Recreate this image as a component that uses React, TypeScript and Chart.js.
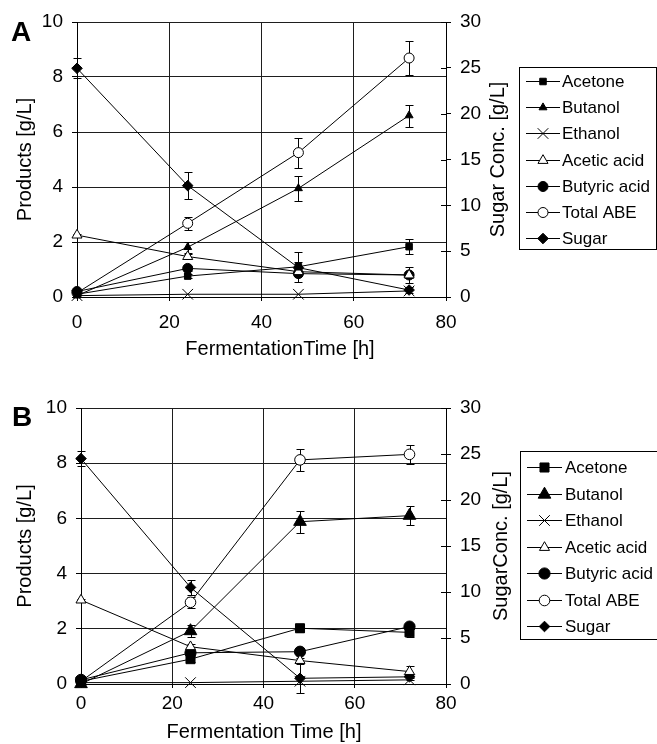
import { useEffect, useRef } from 'react';
import { Chart, registerables } from 'chart.js';

Chart.register(...registerables);

const FONT = "'Liberation Sans', Arial, Helvetica, sans-serif";

// ---------- data ----------
const timeH = [0, 24, 48, 72];
const xTicksMax = 80;
const xTickStep = 20;
const productsMax = 10;
const productsStep = 2;
const sugarMax = 30;
const sugarStep = 5;

const seriesLabels = ['Acetone', 'Butanol', 'Ethanol', 'Acetic acid', 'Butyric acid', 'Total ABE', 'Sugar'];

// Panel A (products in g/L on left axis, sugar in g/L on right axis)
const acetoneA = [0.1, 0.76, 1.1, 1.83];
const butanolA = [0.05, 1.81, 3.95, 6.6];
const ethanolA = [0.05, 0.1, 0.1, 0.22];
const aceticA = [2.25, 1.47, 0.92, 0.8];
const butyricA = [0.2, 1.04, 0.85, 0.8];
const totalAbeA = [0.15, 2.68, 5.25, 8.69];
const sugarA = [24.95, 12.15, 3.2, 0.76];

const acetoneErrA = [0.05, 0.08, 0.55, 0.28];
const butanolErrA = [0, 0.2, 0.45, 0.4];
const ethanolErrA = [0, 0, 0, 0];
const aceticErrA = [0.05, 0.1, 0.1, 0.3];
const butyricErrA = [0.05, 0.08, 0.1, 0.1];
const totalAbeErrA = [0, 0.23, 0.55, 0.62];
const sugarErrA = [1.1, 1.5, 0.6, 0.3];

// Panel B
const acetoneB = [0.1, 0.9, 2.02, 1.87];
const butanolB = [0.0, 1.92, 5.88, 6.1];
const ethanolB = [0.05, 0.05, 0.1, 0.15];
const aceticB = [3.04, 1.35, 0.85, 0.45];
const butyricB = [0.15, 1.13, 1.17, 2.08];
const totalAbeB = [0.1, 2.96, 8.12, 8.32];
const sugarB = [24.5, 10.5, 0.62, 0.78];

const acetoneErrB = [0.05, 0.1, 0.15, 0.15];
const butanolErrB = [0, 0.2, 0.4, 0.35];
const ethanolErrB = [0, 0, 0, 0];
const aceticErrB = [0.05, 0.1, 0.1, 0.22];
const butyricErrB = [0.05, 0.05, 0.1, 0.1];
const totalAbeErrB = [0, 0.2, 0.4, 0.35];
const sugarErrB = [0.8, 0.8, 1.6, 0.3];

// ---------- styles ----------
const markerStyles = ['rect', 'triangle', 'crossRot', 'triangle', 'circle', 'circle', 'rectRot'];
const markerFilled = [true, true, true, false, true, false, true];

type Spec = {
  letter: string;
  values: number[][];
  errors: number[][];
  radii: number[];
  leftTitle: string;
  rightTitle: string;
  xTitle: string;
  canvasH: number;
  area: { left: number; right: number; top: number; bottom: number };
  xLabelPad: number;
  letterPos: [number, number];
  leftTitleX: number;
  rightTitleX: number;
  xTitlePos: [number, number];
  legend: { x: number; y: number; w: number; h: number; row0: number; gap: number; l1: number; l2: number; tx: number };
};

const W = 657;
const RIGHT_AXIS_W = 60;
const X_AXIS_H = 40;
const GRID = '#1e1e1e';

const specA: Spec = {
  letter: 'A',
  values: [acetoneA, butanolA, ethanolA, aceticA, butyricA, totalAbeA, sugarA],
  errors: [acetoneErrA, butanolErrA, ethanolErrA, aceticErrA, butyricErrA, totalAbeErrA, sugarErrA],
  radii: [4.6, 4.6, 7.5, 5.8, 5, 5, 5.3],
  leftTitle: 'Products [g/L]',
  rightTitle: 'Sugar Conc. [g/L]',
  xTitle: 'FermentationTime [h]',
  canvasH: 372,
  area: { left: 77, right: 446, top: 22, bottom: 297 },
  xLabelPad: 10,
  letterPos: [11, 33],
  leftTitleX: 25,
  rightTitleX: 498,
  xTitlePos: [280, 349],
  legend: { x: 519.5, y: 67.5, w: 137, h: 182, row0: 81, gap: 26.2, l1: 526, l2: 560, tx: 562 },
};

const specB: Spec = {
  letter: 'B',
  values: [acetoneB, butanolB, ethanolB, aceticB, butyricB, totalAbeB, sugarB],
  errors: [acetoneErrB, butanolErrB, ethanolErrB, aceticErrB, butyricErrB, totalAbeErrB, sugarErrB],
  radii: [6.4, 7.3, 7.5, 5.8, 5.6, 5.3, 5.3],
  leftTitle: 'Products [g/L]',
  rightTitle: 'SugarConc. [g/L]',
  xTitle: 'Fermentation Time [h]',
  canvasH: 372,
  area: { left: 81, right: 446, top: 36, bottom: 312 },
  xLabelPad: 4,
  letterPos: [12, 46],
  leftTitleX: 25,
  rightTitleX: 501,
  xTitlePos: [264, 360],
  legend: { x: 520.5, y: 79.5, w: 137, h: 188, row0: 95, gap: 26.5, l1: 527, l2: 562, tx: 565 },
};

function drawMarker(ctx: CanvasRenderingContext2D, style: string, x: number, y: number, r: number, filled: boolean) {
  ctx.beginPath();
  if (style === 'circle') {
    ctx.arc(x, y, r, 0, Math.PI * 2);
    ctx.closePath();
  } else if (style === 'triangle') {
    ctx.moveTo(x, y - r);
    ctx.lineTo(x + 0.866 * r, y + 0.5 * r);
    ctx.lineTo(x - 0.866 * r, y + 0.5 * r);
    ctx.closePath();
  } else if (style === 'rect') {
    const s = r * Math.SQRT1_2;
    ctx.rect(x - s, y - s, 2 * s, 2 * s);
  } else if (style === 'rectRot') {
    ctx.moveTo(x - r, y);
    ctx.lineTo(x, y - r);
    ctx.lineTo(x + r, y);
    ctx.lineTo(x, y + r);
    ctx.closePath();
  } else if (style === 'crossRot') {
    const d = r * Math.SQRT1_2;
    ctx.moveTo(x - d, y - d);
    ctx.lineTo(x + d, y + d);
    ctx.moveTo(x - d, y + d);
    ctx.lineTo(x + d, y - d);
  }
  if (style !== 'crossRot') {
    ctx.fillStyle = filled ? '#000' : '#fff';
    ctx.fill();
  }
  ctx.strokeStyle = '#000';
  ctx.lineWidth = 1;
  ctx.stroke();
}

function makePlugin(spec: Spec) {
  return {
    id: 'decor' + spec.letter,
    beforeDatasetsDraw(chart: any) {
      const ctx = chart.ctx as CanvasRenderingContext2D;
      const xs = chart.scales.x;
      ctx.save();
      ctx.strokeStyle = '#000';
      ctx.lineWidth = 1;
      spec.errors.forEach((errs, i) => {
        const ys = i === 6 ? chart.scales.y1 : chart.scales.y;
        errs.forEach((e, k) => {
          if (!e) return;
          const v = spec.values[i][k];
          const px = Math.round(xs.getPixelForValue(timeH[k])) + 0.5;
          const y1 = Math.round(ys.getPixelForValue(v + e)) + 0.5;
          const y2 = Math.round(ys.getPixelForValue(v - e)) + 0.5;
          ctx.beginPath();
          ctx.moveTo(px, y1);
          ctx.lineTo(px, y2);
          ctx.moveTo(px - 4, y1);
          ctx.lineTo(px + 4, y1);
          ctx.moveTo(px - 4, y2);
          ctx.lineTo(px + 4, y2);
          ctx.stroke();
        });
      });
      ctx.restore();
    },
    afterDraw(chart: any) {
      const ctx = chart.ctx as CanvasRenderingContext2D;
      const area = chart.chartArea;
      ctx.save();
      ctx.fillStyle = '#000';
      // panel letter
      ctx.font = `bold 28px ${FONT}`;
      ctx.textAlign = 'left';
      ctx.textBaseline = 'middle';
      ctx.fillText(spec.letter, spec.letterPos[0], spec.letterPos[1]);
      // titles
      ctx.font = `20px ${FONT}`;
      ctx.textAlign = 'center';
      ctx.textBaseline = 'middle';
      const cy = (area.top + area.bottom) / 2;
      ctx.save();
      ctx.translate(spec.leftTitleX, cy);
      ctx.rotate(-Math.PI / 2);
      ctx.fillText(spec.leftTitle, 0, 0);
      ctx.restore();
      ctx.save();
      ctx.translate(spec.rightTitleX, cy);
      ctx.rotate(-Math.PI / 2);
      ctx.fillText(spec.rightTitle, 0, 0);
      ctx.restore();
      ctx.fillText(spec.xTitle, spec.xTitlePos[0], spec.xTitlePos[1]);
      // inner half of right-axis ticks
      const ys1 = chart.scales.y1;
      ctx.strokeStyle = '#000';
      ctx.lineWidth = 1;
      ys1.ticks.forEach((t: any) => {
        const py = Math.round(ys1.getPixelForValue(t.value)) + 0.5;
        ctx.beginPath();
        ctx.moveTo(area.right - 5, py);
        ctx.lineTo(area.right, py);
        ctx.stroke();
      });
      // legend
      const L = spec.legend;
      ctx.fillStyle = '#fff';
      ctx.fillRect(L.x, L.y, L.w, L.h);
      ctx.strokeRect(L.x, L.y, L.w, L.h);
      ctx.font = `17px ${FONT}`;
      ctx.textAlign = 'left';
      chart.data.datasets.forEach((ds: any, i: number) => {
        const ry = Math.round(L.row0 + i * L.gap) + 0.5;
        ctx.strokeStyle = '#000';
        ctx.lineWidth = 1;
        ctx.beginPath();
        ctx.moveTo(L.l1, ry);
        ctx.lineTo(L.l2, ry);
        ctx.stroke();
        drawMarker(ctx, ds.pointStyle, (L.l1 + L.l2) / 2, ry, ds.pointRadius, markerFilled[i]);
        ctx.fillStyle = '#000';
        ctx.fillText(ds.label, L.tx, ry + 1);
      });
      ctx.restore();
    },
  };
}

function makeConfig(spec: Spec): any {
  const tickFont = { family: FONT, size: 19 };
  return {
    type: 'line',
    data: {
      datasets: seriesLabels.map((label, i) => ({
        label,
        data: timeH.map((t, k) => ({ x: t, y: spec.values[i][k] })),
        yAxisID: i === 6 ? 'y1' : 'y',
        borderColor: '#000',
        borderWidth: 1,
        tension: 0,
        fill: false,
        pointStyle: markerStyles[i],
        pointRadius: spec.radii[i],
        pointBackgroundColor: markerFilled[i] ? '#000' : '#fff',
        pointBorderColor: '#000',
        pointBorderWidth: 1,
        clip: false,
      })),
    },
    options: {
      animation: false,
      responsive: false,
      events: [],
      layout: {
        padding: {
          left: 0,
          top: spec.area.top,
          right: W - spec.area.right - RIGHT_AXIS_W,
          bottom: spec.canvasH - spec.area.bottom - X_AXIS_H,
        },
      },
      plugins: { legend: { display: false }, tooltip: { enabled: false } },
      scales: {
        x: {
          type: 'linear',
          min: 0,
          max: xTicksMax,
          ticks: { stepSize: xTickStep, font: tickFont, color: '#000', padding: spec.xLabelPad, maxRotation: 0 },
          grid: { color: GRID, tickColor: '#000', tickLength: 4, lineWidth: 1 },
          border: { color: '#000', width: 1 },
          afterFit: (s: any) => { s.height = X_AXIS_H; },
        },
        y: {
          type: 'linear',
          position: 'left',
          min: 0,
          max: productsMax,
          ticks: { stepSize: productsStep, font: tickFont, color: '#000', padding: 9 },
          grid: { color: GRID, tickColor: '#000', tickLength: 5, lineWidth: 1 },
          border: { color: '#000', width: 1 },
          afterFit: (s: any) => { s.width = spec.area.left; },
        },
        y1: {
          type: 'linear',
          position: 'right',
          min: 0,
          max: sugarMax,
          ticks: { stepSize: sugarStep, font: tickFont, color: '#000', padding: 9 },
          grid: { drawOnChartArea: false, tickColor: '#000', tickLength: 5, lineWidth: 1 },
          border: { color: '#000', width: 1 },
          afterFit: (s: any) => { s.width = RIGHT_AXIS_W; },
        },
      },
    },
    plugins: [makePlugin(spec)],
  };
}

function Panel({ spec, top }: { spec: Spec; top: number }) {
  const ref = useRef<HTMLCanvasElement | null>(null);
  useEffect(() => {
    if (!ref.current) return;
    const chart = new Chart(ref.current, makeConfig(spec));
    return () => chart.destroy();
  }, [spec]);
  return (
    <canvas
      ref={ref}
      width={W}
      height={spec.canvasH}
      style={{ position: 'absolute', left: 0, top, width: W, height: spec.canvasH, display: 'block' }}
    />
  );
}

export default function App() {
  return (
    <div style={{ position: 'absolute', left: 0, top: 0, width: W, height: 744, background: '#fff', overflow: 'hidden' }}>
      <Panel spec={specA} top={0} />
      <Panel spec={specB} top={372} />
    </div>
  );
}
